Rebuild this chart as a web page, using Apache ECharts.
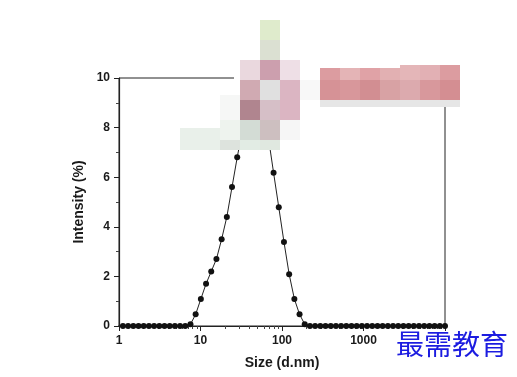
<!DOCTYPE html>
<html>
<head>
<meta charset="utf-8">
<script src="https://cdn.jsdelivr.net/npm/echarts@6/dist/echarts.min.js"></script>
<style>
  html, body { margin: 0; padding: 0; background: #fff; }
  #main { width: 517px; height: 377px; }
</style>
</head>
<body>
<div id="main"></div>
<script>
// size bins (d.nm) and intensity (%)
var sizes = [0.9649, 1.117, 1.294, 1.499, 1.736, 2.01, 2.328, 2.696, 3.122, 3.615, 4.187, 4.849,
  5.615, 6.503, 7.531, 8.721, 10.1, 11.7, 13.54, 15.69, 18.17, 21.04, 24.36, 28.21, 32.67,
  37.84, 43.82, 50.75, 58.77, 68.06, 78.82, 91.28, 105.7, 122.4, 141.8, 164.2, 190.1, 220.2,
  255, 295.3, 342, 396.1, 458.7, 531.2, 615.1, 712.4, 825, 955.4, 1106, 1281, 1484, 1718,
  1990, 2305, 2669, 3091, 3580, 4145, 4801, 5560, 6439, 7456, 8635, 10000];
var intensity = [0, 0, 0, 0, 0, 0, 0, 0, 0, 0, 0, 0,
  0, 0, 0.07, 0.47, 1.09, 1.7, 2.2, 2.7, 3.5, 4.4, 5.6, 6.8, 7.9,
  8.8, 9.3, 9.3, 8.8, 7.6, 6.18, 4.79, 3.39, 2.09, 1.09, 0.47, 0.07, 0,
  0, 0, 0, 0, 0, 0, 0, 0, 0, 0, 0, 0, 0, 0,
  0, 0, 0, 0, 0, 0, 0, 0, 0, 0, 0, 0];
var xTicks = [1, 10, 100, 1000];   // 10000 label is hidden under the watermark
var yTicks = [0, 2, 4, 6, 8, 10];

// minor tick positions for the log axis (2..9 in each decade), in log10 units
var xMinorLog = [];
for (var d = 0; d < 4; d++) {
  for (var m = 2; m <= 9; m++) xMinorLog.push(d + Math.log10(m));
}

var points = sizes.map(function (s, i) { return [s, intensity[i]]; });

// censoring mosaic blocks seen on the reference
var mosaic = [
  // white haze that hides the frame under the blocks
  [234, 55, 88, 52, '#ffffff'],
  [220, 95, 20, 30, '#f6f7f6'],
  [180, 128, 40, 22, '#e9f0ea'],
  [220, 120, 20, 20, '#eef3ee'],
  [220, 140, 20, 10, '#dde3dd'],
  [240, 60, 20, 20, '#ead8de'],
  [240, 80, 20, 20, '#d0aab2'],
  [240, 100, 20, 20, '#b0858f'],
  [240, 120, 20, 20, '#d3dcd5'],
  [240, 140, 20, 10, '#e2ece4'],
  [260, 20, 20, 20, '#dfebcc'],
  [260, 40, 20, 20, '#dbe0d2'],
  [260, 60, 20, 20, '#cc9fae'],
  [260, 80, 20, 20, '#e0e0e0'],
  [260, 100, 20, 20, '#d6bfc7'],
  [260, 120, 20, 20, '#cdbfc0'],
  [260, 140, 20, 10, '#e0e8e0'],
  [280, 60, 20, 20, '#eedfe6'],
  [280, 80, 20, 20, '#dbb5c2'],
  [280, 100, 20, 20, '#dbb5c2'],
  [280, 120, 20, 20, '#f6f6f6'],
  [300, 80, 20, 20, '#f8f8f8'],
  // red bar on the right
  [320, 100, 140, 7, '#e6e6e6'],
  [320, 68, 20, 12, '#dc9ca0'],
  [340, 68, 20, 12, '#e4b4b6'],
  [360, 68, 20, 12, '#e0a2a6'],
  [380, 68, 20, 12, '#e2b0b2'],
  [400, 65, 20, 15, '#e4b6b8'],
  [420, 65, 20, 15, '#e2b0b4'],
  [440, 65, 20, 15, '#dc9ca0'],
  [320, 80, 20, 20, '#d69296'],
  [340, 80, 20, 20, '#d8979b'],
  [360, 80, 20, 20, '#d28e92'],
  [380, 80, 20, 20, '#d8a2a4'],
  [400, 80, 20, 20, '#dcaaae'],
  [420, 80, 20, 20, '#d8989c'],
  [440, 80, 20, 20, '#d48e92']
];

var graphics = mosaic.map(function (b) {
  return {
    type: 'rect',
    shape: { x: b[0], y: b[1], width: b[2], height: b[3] },
    style: { fill: b[4] },
    z: 100
  };
});
graphics.push({
  type: 'text',
  left: 396,
  top: 330,
  z: 100,
  style: {
    text: '最需教育',
    fill: '#1c1ce0',
    font: '28px "Noto Sans CJK SC"'
  }
});

var labelFont = { color: '#1a1a1a', fontSize: 12, fontWeight: 'bold', fontFamily: 'Liberation Sans' };
var nameFont = { color: '#1a1a1a', fontSize: 14, fontWeight: 'bold', fontFamily: 'Liberation Sans' };

var chart = echarts.init(document.getElementById('main'));
var option = {
  backgroundColor: '#fff',
  animation: false,
  grid: {
    left: 119, right: 72, top: 78, bottom: 51,
    show: true, borderColor: '#222', borderWidth: 1
  },
  xAxis: [
    {
      type: 'log',
      logBase: 10,
      min: 1,
      max: 10000,
      name: 'Size (d.nm)',
      nameLocation: 'middle',
      nameGap: 30,
      nameTextStyle: nameFont,
      axisLine: { lineStyle: { color: '#222', width: 1.2 } },
      axisTick: { length: 5, lineStyle: { color: '#222' } },
      axisLabel: Object.assign({
        margin: 9,
        customValues: xTicks,
        formatter: function (v) { return String(v); }
      }, labelFont),
      splitLine: { show: false }
    },
    {
      // helper axis in log10 units, only for the minor ticks
      type: 'value',
      min: 0,
      max: 4,
      position: 'bottom',
      axisLine: { show: true, lineStyle: { color: '#222', width: 1.2 } },
      axisTick: { show: true, length: 3, customValues: xMinorLog, lineStyle: { color: '#444' } },
      axisLabel: { show: false },
      splitLine: { show: false }
    }
  ],
  yAxis: {
    type: 'value',
    min: 0,
    max: 10,
    interval: 2,
    name: 'Intensity (%)',
    nameLocation: 'middle',
    nameGap: 28,
    nameTextStyle: nameFont,
    axisLine: { show: true, lineStyle: { color: '#222', width: 1.2 } },
    axisTick: { show: true, length: 5, lineStyle: { color: '#222' } },
    minorTick: { show: true, splitNumber: 2, length: 3, lineStyle: { color: '#444' } },
    axisLabel: Object.assign({ margin: 9, customValues: yTicks }, labelFont),
    splitLine: { show: false }
  },
  series: [
    {
      type: 'line',
      data: points,
      symbol: 'circle',
      symbolSize: 6,
      showSymbol: true,
      itemStyle: { color: '#111' },
      lineStyle: { color: '#222', width: 1 }
    }
  ],
  graphic: graphics
};
chart.setOption(option);
</script>
</body>
</html>
